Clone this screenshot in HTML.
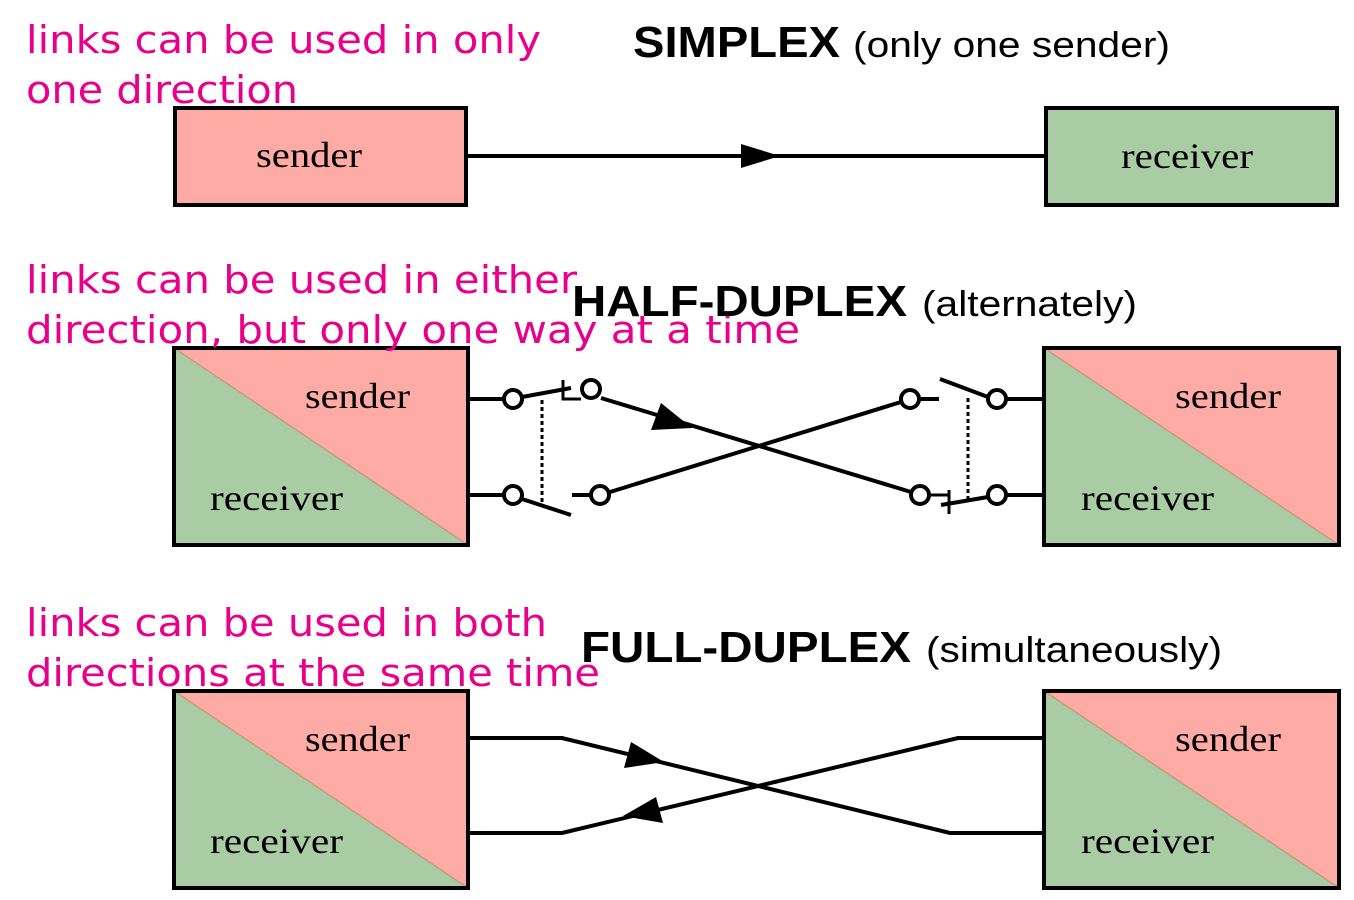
<!DOCTYPE html>
<html><head><meta charset="utf-8"><style>html,body{margin:0;padding:0;background:#fff}svg{display:block}</style></head>
<body>
<svg width="1354" height="900" viewBox="0 0 1354 900" xmlns="http://www.w3.org/2000/svg">
<defs>
<clipPath id="c"><rect width="1354" height="900"/></clipPath>
</defs>
<g stroke="#000" stroke-width="4" fill="none">
<!-- simplex -->
<rect x="175" y="108" width="291" height="97" fill="#fdaba4"/>
<rect x="1046" y="108" width="291" height="97" fill="#aacca4"/>
<line x1="466" y1="156" x2="1046" y2="156"/>
</g>
<polygon points="780,156 741,144 741,168" fill="#000"/>

<!-- half duplex boxes -->
<g>
<polygon points="174,348 468,348 468,545" fill="#fdaba4"/>
<polygon points="174,348 174,545 468,545" fill="#aacca4"/>
<line x1="174" y1="348" x2="468" y2="545" stroke="#c89a80" stroke-width="1.5"/>
<rect x="174" y="348" width="294" height="197" fill="none" stroke="#000" stroke-width="4"/>
<polygon points="1044,348 1339,348 1339,545" fill="#fdaba4"/>
<polygon points="1044,348 1044,545 1339,545" fill="#aacca4"/>
<line x1="1044" y1="348" x2="1339" y2="545" stroke="#c89a80" stroke-width="1.5"/>
<rect x="1044" y="348" width="295" height="197" fill="none" stroke="#000" stroke-width="4"/>
</g>
<!-- full duplex boxes -->
<g>
<polygon points="174,691 468,691 468,888" fill="#fdaba4"/>
<polygon points="174,691 174,888 468,888" fill="#aacca4"/>
<line x1="174" y1="691" x2="468" y2="888" stroke="#c89a80" stroke-width="1.5"/>
<rect x="174" y="691" width="294" height="197" fill="none" stroke="#000" stroke-width="4"/>
<polygon points="1044,691 1339,691 1339,888" fill="#fdaba4"/>
<polygon points="1044,691 1044,888 1339,888" fill="#aacca4"/>
<line x1="1044" y1="691" x2="1339" y2="888" stroke="#c89a80" stroke-width="1.5"/>
<rect x="1044" y="691" width="295" height="197" fill="none" stroke="#000" stroke-width="4"/>
</g>

<!-- half duplex switches -->
<g stroke="#000" stroke-width="4" fill="none">
<line x1="468" y1="399" x2="504" y2="399"/>
<line x1="468" y1="495" x2="504" y2="495"/>
<line x1="1006" y1="399" x2="1044" y2="399"/>
<line x1="1006" y1="495" x2="1044" y2="495"/>
<circle cx="513" cy="399" r="9" fill="#fff"/>
<circle cx="591" cy="389" r="9" fill="#fff"/>
<circle cx="513" cy="495" r="9" fill="#fff"/>
<circle cx="600" cy="495" r="9" fill="#fff"/>
<circle cx="910" cy="399" r="9" fill="#fff"/>
<circle cx="997" cy="399" r="9" fill="#fff"/>
<circle cx="920" cy="495" r="9" fill="#fff"/>
<circle cx="997" cy="495" r="9" fill="#fff"/>
<!-- left switches -->
<line x1="522" y1="397" x2="571" y2="388"/>
<polyline points="563,380 563,399 581,399" stroke-width="3"/>
<line x1="522" y1="499" x2="571" y2="515"/>
<line x1="572" y1="495" x2="591" y2="495"/>
<line x1="542" y1="400" x2="542" y2="505" stroke-width="3" stroke-dasharray="4,3"/>
<!-- right switches -->
<line x1="920" y1="399" x2="939" y2="399"/>
<line x1="940" y1="379" x2="988" y2="397"/>
<line x1="968" y1="398" x2="968" y2="500" stroke-width="3" stroke-dasharray="4,3"/>
<line x1="929" y1="495" x2="949" y2="495" stroke-width="3"/>
<line x1="949" y1="490" x2="949" y2="514" stroke-width="3"/>
<line x1="941" y1="505" x2="988" y2="497"/>
<!-- cross -->
<line x1="601" y1="398" x2="911" y2="492"/>
<line x1="610" y1="492" x2="901" y2="402"/>
</g>
<polygon points="692,428 651,430 661,403" fill="#000"/>

<!-- full duplex lines -->
<g stroke="#000" stroke-width="4" fill="none">
<polyline points="468,738 562,738 950,833 1044,833"/>
<polyline points="468,833 562,833 958,738 1044,738"/>
</g>
<polygon points="664,762 624,768 631,742" fill="#000"/>
<polygon points="623,816 656,797 663,823" fill="#000"/>

<!-- magenta text -->
<g fill="#e8008a" font-family="DejaVu Sans, Verdana, sans-serif" font-size="38">
<text x="26" y="53" textLength="515" lengthAdjust="spacingAndGlyphs">links can be used in only</text>
<text x="26" y="103" textLength="272" lengthAdjust="spacingAndGlyphs">one direction</text>
<text x="26" y="293" textLength="551" lengthAdjust="spacingAndGlyphs">links can be used in either</text>
<text x="26" y="343" textLength="774" lengthAdjust="spacingAndGlyphs">direction, but only one way at a time</text>
<text x="26" y="636" textLength="521" lengthAdjust="spacingAndGlyphs">links can be used in both</text>
<text x="26" y="686" textLength="574" lengthAdjust="spacingAndGlyphs">directions at the same time</text>
</g>

<!-- titles -->
<g fill="#000" font-family="Liberation Sans, Arial, sans-serif">
<text x="633" y="57" font-size="44" font-weight="bold" textLength="207" lengthAdjust="spacingAndGlyphs">SIMPLEX</text>
<text x="853" y="57" font-size="36" textLength="317" lengthAdjust="spacingAndGlyphs">(only one sender)</text>
<text x="572" y="316" font-size="44" font-weight="bold" textLength="335" lengthAdjust="spacingAndGlyphs">HALF-DUPLEX</text>
<text x="922" y="316" font-size="36" textLength="215" lengthAdjust="spacingAndGlyphs">(alternately)</text>
<text x="581" y="662" font-size="44" font-weight="bold" textLength="330" lengthAdjust="spacingAndGlyphs">FULL-DUPLEX</text>
<text x="926" y="662" font-size="36" textLength="296" lengthAdjust="spacingAndGlyphs">(simultaneously)</text>
</g>

<!-- box labels -->
<g fill="#000" font-family="Liberation Serif, Times New Roman, serif" font-size="36">
<text x="256" y="167" textLength="106" lengthAdjust="spacingAndGlyphs">sender</text>
<text x="1121" y="168" textLength="132" lengthAdjust="spacingAndGlyphs">receiver</text>
<text x="305" y="408" textLength="105" lengthAdjust="spacingAndGlyphs">sender</text>
<text x="210" y="510" textLength="133" lengthAdjust="spacingAndGlyphs">receiver</text>
<text x="1175" y="408" textLength="106" lengthAdjust="spacingAndGlyphs">sender</text>
<text x="1081" y="510" textLength="133" lengthAdjust="spacingAndGlyphs">receiver</text>
<text x="305" y="751" textLength="105" lengthAdjust="spacingAndGlyphs">sender</text>
<text x="210" y="853" textLength="133" lengthAdjust="spacingAndGlyphs">receiver</text>
<text x="1175" y="751" textLength="106" lengthAdjust="spacingAndGlyphs">sender</text>
<text x="1081" y="853" textLength="133" lengthAdjust="spacingAndGlyphs">receiver</text>
</g>
</svg>
</body></html>
